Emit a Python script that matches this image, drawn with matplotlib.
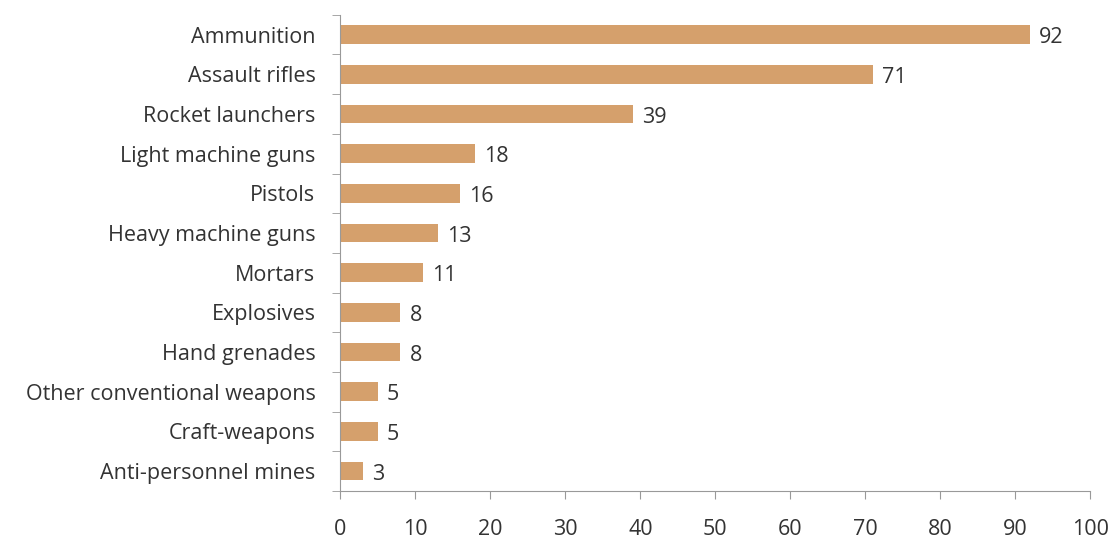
import matplotlib.pyplot as plt

categories = ["Ammunition", "Assault rifles", "Rocket launchers", "Light machine guns",
              "Pistols", "Heavy machine guns", "Mortars", "Explosives", "Hand grenades",
              "Other conventional weapons", "Craft-weapons", "Anti-personnel mines"]
values = [92, 71, 39, 18, 16, 13, 11, 8, 8, 5, 5, 3]
xticks = [0, 10, 20, 30, 40, 50, 60, 70, 80, 90, 100]

plt.rcParams['font.family'] = ['Open Sans', 'DejaVu Sans']

fig = plt.figure(figsize=(11.16, 5.48), dpi=100)
ax = fig.add_axes([0.305, 0.104, 0.672, 0.869])

pos = list(range(len(categories)))
ax.barh(pos, values, height=0.47, color='#d5a06c')
for p, v in zip(pos, values):
    ax.text(v + 1.2, p + 0.08, str(v), va='center', ha='left', fontsize=15.5, color='#333333')

ax.set_ylim(len(categories) - 0.5, -0.5)
ax.set_xlim(0, 100)
ax.set_yticks(pos)
ax.set_yticklabels(categories, fontsize=15.5, color='#333333')
ax.set_yticks([p - 0.5 for p in pos] + [len(categories) - 0.5], minor=True)
ax.tick_params(axis='y', which='major', length=0, pad=18)
ax.tick_params(axis='y', which='minor', length=6, color='#999999')
ax.set_xticks(xticks)
ax.set_xticklabels([str(t) for t in xticks], fontsize=15.5, color='#333333')
ax.tick_params(axis='x', length=6, color='#999999', pad=14)

for s in ['top', 'right']:
    ax.spines[s].set_visible(False)
for s in ['left', 'bottom']:
    ax.spines[s].set_color('#999999')

fig.savefig('out.png', dpi=100)
